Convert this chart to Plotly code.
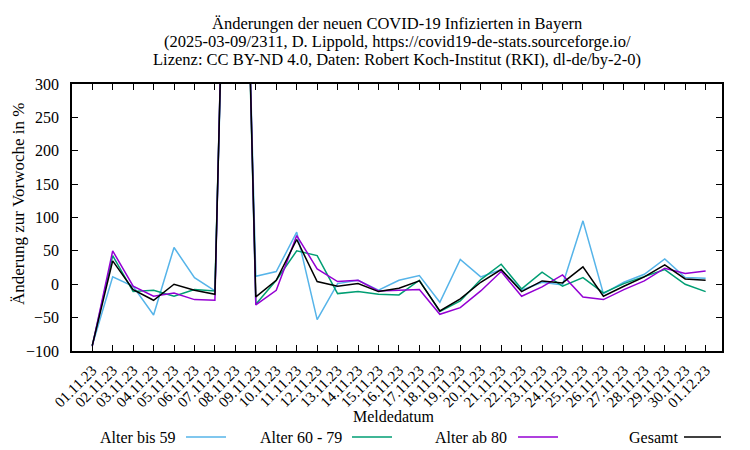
import plotly.graph_objects as go

dates = ["01.11.23", "02.11.23", "03.11.23", "04.11.23", "05.11.23", "06.11.23",
         "07.11.23", "08.11.23", "09.11.23", "10.11.23", "11.11.23", "12.11.23",
         "13.11.23", "14.11.23", "15.11.23", "16.11.23", "17.11.23", "18.11.23",
         "19.11.23", "20.11.23", "21.11.23", "22.11.23", "23.11.23", "24.11.23",
         "25.11.23", "26.11.23", "27.11.23", "28.11.23", "29.11.23", "30.11.23",
         "01.12.23"]

alter_bis_59 = [-92, 11, -3, -46, 55, 10, -10, 1150, 12, 19, 78, -53, 1, 6, -9, 6,
                13, -27, 37, 11, 22, -9, 3, -1, 95, -14, 3, 15, 38, 10, 9]
alter_60_79 = [-92, 43, -11, -9, -18, -8, -10, 1200, -30, 6, 50, 43, -14, -11, -15,
               -16, 6, -41, -25, 7, 30, -7, 18, -3, 10, -13, 1, 12, 22, 0, -11]
alter_ab_80 = [-93, 50, -3, -18, -13, -23, -24, 1250, -31, -9, 73, 23, 4, 6, -10, -9,
               -8, -45, -35, -10, 19, -18, -4, 14, -19, -23, -8, 5, 24, 16, 20]
gesamt = [-92, 35, -8, -24, 0, -9, -15, 1200, -19, 6, 67, 4, -3, 1, -11, -6, 5,
          -40, -22, 3, 22, -11, 5, 2, 26, -18, -3, 11, 29, 8, 6]

series_names = ["Alter bis 59", "Alter 60 - 79", "Alter ab 80", "Gesamt"]
series_values = [alter_bis_59, alter_60_79, alter_ab_80, gesamt]
colors = ["#56b4e9", "#009e73", "#9400d3", "#000000"]

y_ticks = [-100, -50, 0, 50, 100, 150, 200, 250, 300]

title_lines = ["Änderungen der neuen COVID-19 Infizierten in Bayern",
               "(2025-03-09/2311, D. Lippold, https://covid19-de-stats.sourceforge.io/",
               "Lizenz: CC BY-ND 4.0, Daten: Robert Koch-Institut (RKI), dl-de/by-2-0)"]

FONT = "Liberation Serif"
OFF = 8  # default page body margin
W, H = 750 - OFF, 450 - OFF
# plot area in page pixels: x 72..722, y 84..351
L, T = 72 - OFF, 84 - OFF
R = W - (722 - OFF)
B = H - (351 - OFF)
PW, PH = W - L - R, H - T - B


def px(x):
    return (x - OFF - L) / PW


def py(y):
    return (H - B - (y - OFF)) / PH


fig = go.Figure()
for name, vals, col in zip(series_names, series_values, colors):
    fig.add_trace(go.Scatter(x=list(range(len(dates))), y=vals, mode="lines", name=name,
                             line=dict(color=col, width=1.5), showlegend=False))

fig.update_layout(
    width=W, height=H,
    margin=dict(l=L, r=R, t=T, b=B, autoexpand=False),
    paper_bgcolor="white", plot_bgcolor="white",
    font=dict(family=FONT, size=15, color="black"),
    showlegend=False,
)

fig.update_xaxes(
    range=[-0.99, 30.8], automargin=False,
    tickmode="array", tickvals=list(range(len(dates))), ticktext=dates,
    tickangle=-45, ticks="inside", ticklen=6, tickcolor="black",
    showline=True, linecolor="black", linewidth=1.5, mirror="allticks",
    showgrid=False, zeroline=False, ticklabelstandoff=3,
    tickfont=dict(family=FONT, size=15),
)
fig.update_yaxes(
    range=[-100, 300], automargin=False,
    tickmode="array", tickvals=y_ticks,
    ticks="inside", ticklen=6, tickcolor="black",
    showline=True, linecolor="black", linewidth=1.5, mirror="allticks",
    showgrid=False, zeroline=False, ticklabelstandoff=8,
    tickfont=dict(family=FONT, size=16),
)

# title lines
for i, line in enumerate(title_lines):
    fig.add_annotation(text=line, xref="paper", yref="paper",
                       x=px(397), y=py(23 + 18 * i), showarrow=False,
                       xanchor="center", yanchor="middle", font=dict(family=FONT, size=16.5))

# y axis title
fig.add_annotation(text="Änderung zur Vorwoche in %", xref="paper", yref="paper",
                   x=px(18), y=py(204), showarrow=False, textangle=-90,
                   xanchor="center", yanchor="middle", font=dict(family=FONT, size=17))

# x axis title
fig.add_annotation(text="Meldedatum", xref="paper", yref="paper",
                   x=px(393), y=py(416), showarrow=False,
                   xanchor="center", yanchor="middle", font=dict(family=FONT, size=16))

# gnuplot-style legend: text followed by a line sample
legend_text_right = [178, 344, 509, 680]
legend_line = [(186, 226), (352, 392), (518, 558), (684, 721)]
ly = 437
for name, col, tr, (x0, x1) in zip(series_names, colors, legend_text_right, legend_line):
    fig.add_annotation(text=name, xref="paper", yref="paper",
                       x=px(tr), y=py(ly), showarrow=False,
                       xanchor="right", yanchor="middle", font=dict(family=FONT, size=16))
    fig.add_shape(type="line", xref="paper", yref="paper",
                  x0=px(x0), x1=px(x1), y0=py(ly), y1=py(ly),
                  line=dict(color=col, width=1.5))

fig.write_html("out.html")
